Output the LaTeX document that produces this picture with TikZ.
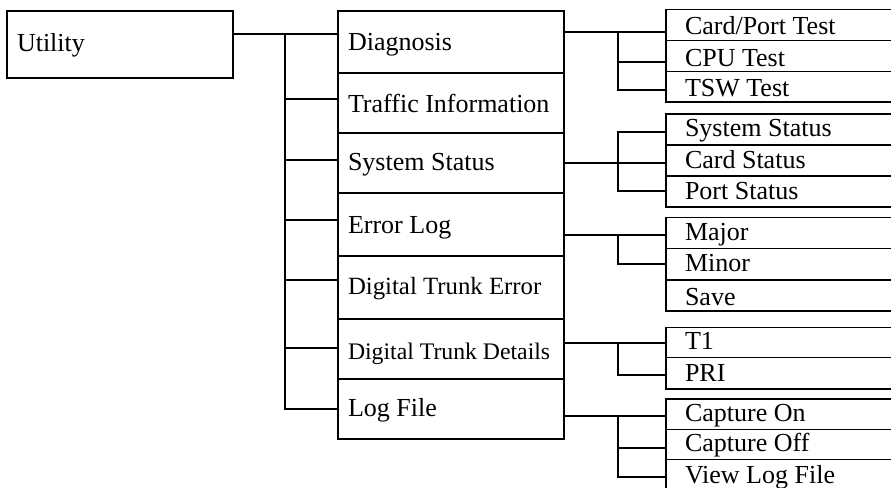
\documentclass[tikz,border=0pt]{standalone}
\usepackage{fontspec}
\setmainfont{Liberation Serif}
\tikzset{
  boxst/.style={draw, rectangle, inner sep=0pt, outer sep=0pt, line width=1pt},
  lbl/.style={anchor=base west, inner sep=0pt, outer sep=0pt, font=\fontsize{19.5}{22}\selectfont},
  lbls/.style={lbl, font=\fontsize{18.6}{22}\selectfont},
  lblt/.style={lbl, font=\fontsize{17.8}{22}\selectfont},
  conn/.style={draw, line width=1pt}
}
\newcommand\mkbox[5]{\node[boxst, minimum width={(#4-#2)*0.75pt}, minimum height={(#5-#3)*0.75pt}, anchor=north west] (#1) at (#2,#3) {};}
\begin{document}
\begin{tikzpicture}[x=0.75pt, y=-0.75pt, line width=1pt]
\useasboundingbox (0,0) rectangle (891,488);
\clip (0,0) rectangle (891,488);
% root
\mkbox{util}{7}{11}{233}{78}
\node[lbl] (tutil) at (17,52) {Utility};
% middle column
\mkbox{diag}{338}{11}{564}{73}
\mkbox{traf}{338}{73}{564}{133}
\mkbox{sys}{338}{133}{564}{193}
\mkbox{err}{338}{193}{564}{256}
\mkbox{dte}{338}{256}{564}{319}
\mkbox{dtd}{338}{319}{564}{379}
\mkbox{logf}{338}{379}{564}{439}
\node[lbl] (tdiag) at (348,50.5) {Diagnosis};
\node[lbl] (ttraf) at (348,112.5) {Traffic Information};
\node[lbl] (tsys) at (348,171) {System Status};
\node[lbl] (terr) at (348,233.3) {Error Log};
\node[lbls] (tdte) at (348,294.5) {Digital Trunk Error};
\node[lblt] (tdtd) at (348,359) {Digital Trunk Details};
\node[lbl] (tlogf) at (348,416.7) {Log File};
% right column
\mkbox{cpt}{666}{9.3}{905}{40.7}
\mkbox{cpu}{666}{40.7}{905}{71.7}
\mkbox{tsw}{666}{71.7}{905}{102}
\mkbox{sst}{666}{114}{905}{145}
\mkbox{cst}{666}{145}{905}{176}
\mkbox{pst}{666}{176}{905}{207}
\mkbox{maj}{666}{217.7}{905}{248.3}
\mkbox{mnr}{666}{248.3}{905}{280}
\mkbox{sav}{666}{280}{905}{311}
\mkbox{rt1}{666}{327.3}{905}{357.7}
\mkbox{pri}{666}{357.7}{905}{389}
\mkbox{con}{666}{399}{905}{429.3}
\mkbox{cof}{666}{429.3}{905}{459.6}
\mkbox{vlf}{666}{459.6}{905}{495}
\node[lbl] (tcpt) at (685,34.3) {Card/Port Test};
\node[lbl] (tcpu) at (685,66.5) {CPU Test};
\node[lbl] (ttsw) at (685,96.5) {TSW Test};
\node[lbl] (tsst) at (685,137) {System Status};
\node[lbl] (tcst) at (685,168.5) {Card Status};
\node[lbl] (tpst) at (685,199.5) {Port Status};
\node[lbl] (tmaj) at (685,240) {Major};
\node[lbl] (tmnr) at (685,271.7) {Minor};
\node[lbl] (tsav) at (685,305) {Save};
\node[lbl] (trt1) at (685,349.3) {T1};
\node[lbl] (tpri) at (685,381.7) {PRI};
\node[lbl] (tcon) at (685,421.7) {Capture On};
\node[lbl] (tcof) at (685,451.7) {Capture Off};
\node[lbl] (tvlf) at (685,483.3) {View Log File};
% trunk from Utility
\coordinate (k1) at (285,34);
\coordinate (k2) at (285,99);
\coordinate (k3) at (285,160);
\coordinate (k4) at (285,220);
\coordinate (k5) at (285,280);
\coordinate (k6) at (285,348);
\coordinate (k7) at (285,409);
\draw[conn] (util.east |- k1) -- (diag.west |- k1);
\draw[conn] (k1) -- (k7) -- (logf.west |- k7);
\draw[conn] (k2) -- (traf.west |- k2);
\draw[conn] (k3) -- (sys.west |- k3);
\draw[conn] (k4) -- (err.west |- k4);
\draw[conn] (k5) -- (dte.west |- k5);
\draw[conn] (k6) -- (dtd.west |- k6);
% Diagnosis group
\coordinate (d1) at (618,32);
\coordinate (d2) at (618,62);
\coordinate (d3) at (618,90);
\draw[conn] (diag.east |- d1) -- (cpt.west |- d1);
\draw[conn] (d1) -- (d3) -- (tsw.west |- d3);
\draw[conn] (d2) -- (cpu.west |- d2);
% System Status group
\coordinate (s1) at (618,132);
\coordinate (s2) at (618,163);
\coordinate (s3) at (618,191);
\draw[conn] (sys.east |- s2) -- (cst.west |- s2);
\draw[conn] (sst.west |- s1) -- (s1) -- (s3) -- (pst.west |- s3);
% Error Log group
\coordinate (e1) at (618,235);
\coordinate (e2) at (618,264);
\draw[conn] (err.east |- e1) -- (maj.west |- e1);
\draw[conn] (e1) -- (e2) -- (mnr.west |- e2);
% Digital Trunk Details group
\coordinate (p1) at (618,343);
\coordinate (p2) at (618,375);
\draw[conn] (dtd.east |- p1) -- (rt1.west |- p1);
\draw[conn] (p1) -- (p2) -- (pri.west |- p2);
% Log File group
\coordinate (l1) at (618,416);
\coordinate (l2) at (618,448);
\coordinate (l3) at (618,477);
\draw[conn] (logf.east |- l1) -- (con.west |- l1);
\draw[conn] (l1) -- (l3) -- (vlf.west |- l3);
\draw[conn] (l2) -- (cof.west |- l2);
\end{tikzpicture}
\end{document}
